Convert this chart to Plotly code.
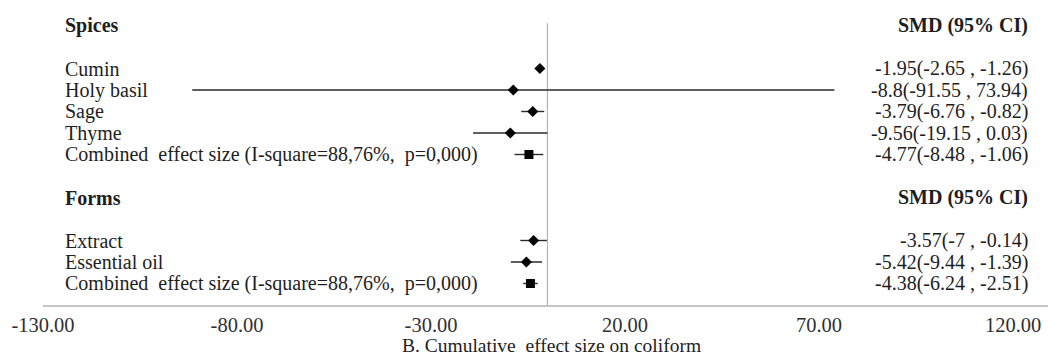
import plotly.graph_objects as go

# ---------------- data ----------------
spice_names = ["Cumin", "Holy basil", "Sage", "Thyme"]
spice_smd = [-1.95, -8.8, -3.79, -9.56]
spice_lo = [-2.65, -91.55, -6.76, -19.15]
spice_hi = [-1.26, 73.94, -0.82, 0.03]
spice_comb = [-4.77, -8.48, -1.06]  # smd, lo, hi

form_names = ["Extract", "Essential oil"]
form_smd = [-3.57, -5.42]
form_lo = [-7, -9.44]
form_hi = [-0.14, -1.39]
form_comb = [-4.38, -6.24, -2.51]

group_titles = ["Spices", "Forms"]
column_title = "SMD (95% CI)"
combined_label = "Combined\u00a0 effect size (I-square=88,76%,\u00a0 p=0,000)"
x_title = "B. Cumulative\u00a0 effect size on coliform"
tick_vals = [-130, -80, -30, 20, 70, 120]
tick_text = ["-130.00", "-80.00", "-30.00", "20.00", "70.00", "120.00"]

SERIF = "Liberation Serif, Times New Roman, serif"
TXT = "#1e1e1e"


def fmt(v, lo, hi):
    return f"{v:g}({lo:g} , {hi:g})"


groups = [
    (group_titles[0], spice_names, spice_smd, spice_lo, spice_hi, spice_comb),
    (group_titles[1], form_names, form_smd, form_lo, form_hi, form_comb),
]

fig = go.Figure()
annotations = []


def left_text(text, y):
    annotations.append(dict(x=0.02, y=y, xref="paper", yref="y", text=text,
                            xanchor="left", yanchor="middle", showarrow=False,
                            font=dict(family=SERIF, size=20, color=TXT)))


def right_text(text, y):
    annotations.append(dict(x=0.982, y=y, xref="paper", yref="y", text=text,
                            xanchor="right", yanchor="middle", showarrow=False,
                            font=dict(family=SERIF, size=20, color=TXT)))


row = 0
last_row = 0
for title, names, smd, lo, hi, comb in groups:
    left_text(f"<b>{title}</b>", row)
    right_text(f"<b>{column_title}</b>", row)
    row += 2
    rows = list(range(row, row + len(names)))
    fig.add_trace(go.Scatter(
        x=smd, y=rows, mode="markers",
        marker=dict(symbol="diamond", size=8.5, color="black"),
        error_x=dict(type="data", symmetric=False,
                     array=[h - v for v, h in zip(smd, hi)],
                     arrayminus=[v - l for v, l in zip(smd, lo)],
                     color="#2a2a2a", thickness=1.4, width=0),
        showlegend=False, hoverinfo="skip"))
    for r, n, v, l, h in zip(rows, names, smd, lo, hi):
        left_text(n, r)
        right_text(fmt(v, l, h), r)
    row += len(names)
    cv, cl, ch = comb
    fig.add_trace(go.Scatter(
        x=[cv], y=[row], mode="markers",
        marker=dict(symbol="square", size=9, color="black"),
        error_x=dict(type="data", symmetric=False, array=[ch - cv], arrayminus=[cv - cl],
                     color="#2a2a2a", thickness=1.4, width=0),
        showlegend=False, hoverinfo="skip"))
    left_text(combined_label, row)
    right_text(fmt(cv, cl, ch), row)
    last_row = row
    row += 2

bottom = last_row + 1

annotations.append(dict(x=0.5055, y=-0.134, xref="paper", yref="paper", text=x_title,
                        xanchor="center", yanchor="middle", showarrow=False, borderpad=0,
                        font=dict(family=SERIF, size=19.5, color=TXT)))

fig.add_shape(type="line", xref="x", yref="y", x0=0, x1=0, y0=-0.1, y1=bottom,
              line=dict(color="#b4b4b4", width=1.2), layer="below")

fig.update_layout(
    width=1048, height=357,
    margin=dict(l=43, r=0, t=0, b=52),
    paper_bgcolor="white", plot_bgcolor="white",
    annotations=annotations,
    xaxis=dict(range=[-130, 129.0], tickvals=tick_vals, ticktext=tick_text,
               showgrid=False, zeroline=False, showline=True,
               linecolor="#c4c4c4", linewidth=1.5,
               ticks="outside", ticklen=1, tickcolor="rgba(0,0,0,0)",
               tickfont=dict(family=SERIF, size=20.5, color="#303030")),
    yaxis=dict(range=[bottom, bottom - 305 / 21.5], visible=False),
)

fig.write_html("out.html")
